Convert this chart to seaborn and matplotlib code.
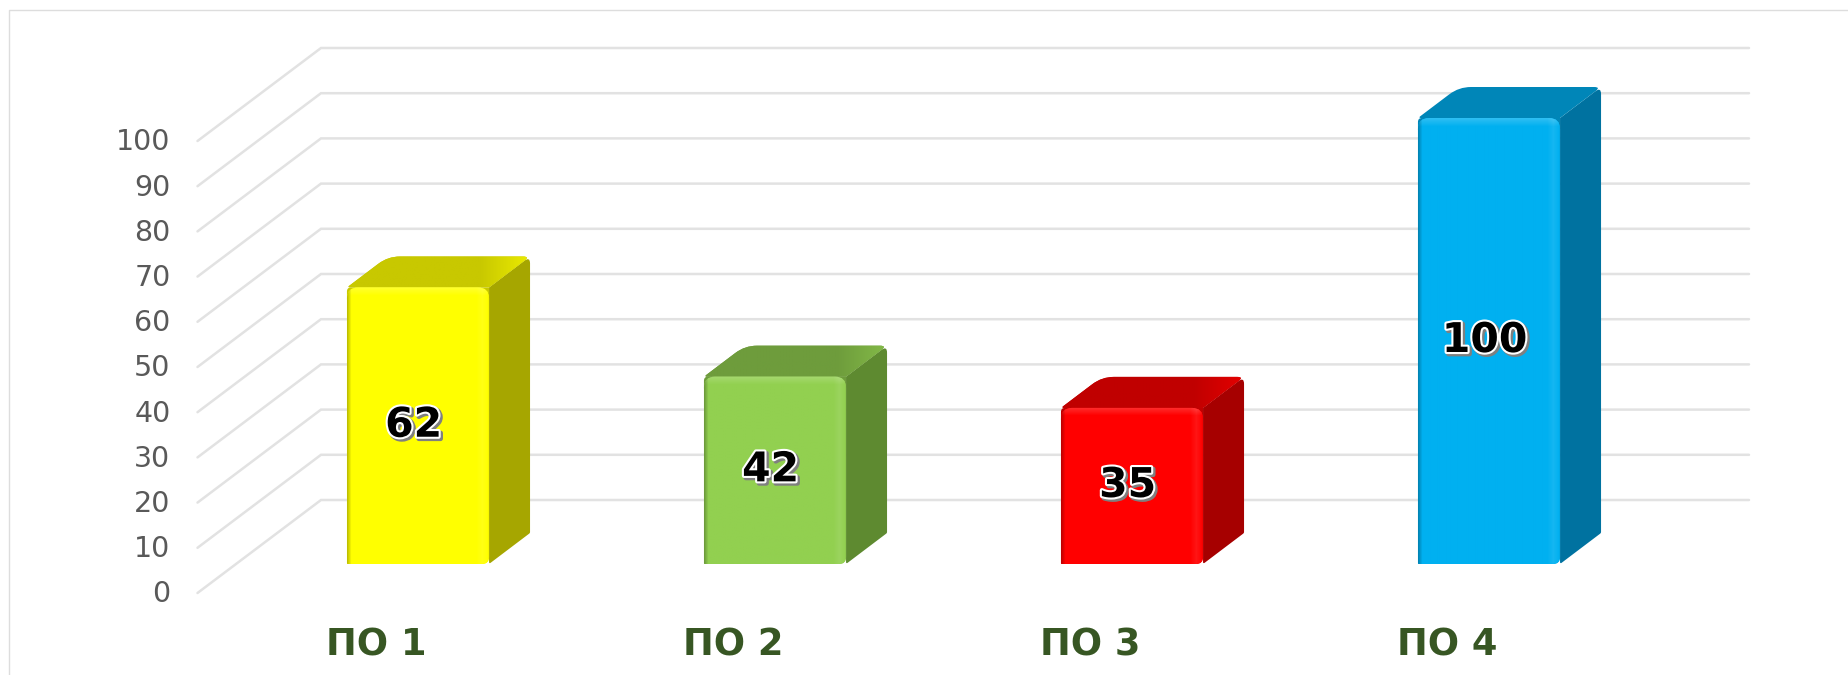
import numpy as np
import matplotlib
matplotlib.use("Agg")
import matplotlib.pyplot as plt
import matplotlib.patheffects as pe
from matplotlib.path import Path
from matplotlib.patches import PathPatch
from matplotlib.lines import Line2D
from matplotlib.transforms import Affine2D
import seaborn as sns

categories = ["ПО 1", "ПО 2", "ПО 3", "ПО 4"]
values = [62, 42, 35, 100]
y_ticks = [0, 10, 20, 30, 40, 50, 60, 70, 80, 90, 100]
front_colors = ["#FFFF00", "#92D050", "#FF0000", "#00B0F0"]
side_colors = ["#A6A600", "#5E8A30", "#A60000", "#0072A0"]
top_colors = ["#C8C800", "#6E9C3C", "#C00000", "#0086B8"]

W, H = 1849, 675
sns.set_theme(style="white")
plt.rcParams["font.family"] = ["DejaVu Sans"]
fig = plt.figure(figsize=(W / 100, H / 100), dpi=100, facecolor="white")


def axes_px(left, top, width, height, **kw):
    return fig.add_axes([left / W, 1 - (top + height) / H, width / W, height / H], **kw)


# Front plane: carries the tick labels and the wall gridlines
PLOT_W, PLOT_H = 1428, 452
ax_front = axes_px(197.5, 141, PLOT_W, PLOT_H, zorder=1)
ax_front.set_xlim(-0.5, 3.5)
ax_front.set_ylim(0, 100)
ax_front.patch.set_visible(False)
sns.despine(ax=ax_front, left=True, bottom=True)
ax_front.set_yticks(y_ticks, [str(v) for v in y_ticks])
ax_front.set_xticks(range(len(categories)), categories)
ax_front.tick_params(axis="y", length=0, pad=19.5, labelsize=20.5, labelcolor="#595959")
ax_front.tick_params(axis="x", length=0, pad=24, labelsize=26.5, labelcolor="#375623")
for lab in ax_front.get_xticklabels():
    lab.set_fontweight("bold")
for tick in ax_front.yaxis.get_major_ticks():
    tick.label1.set_transform(tick.label1.get_transform() + Affine2D().translate(0, 1.5))

sx = PLOT_W / 4          # px per category
sy = PLOT_H / 100        # px per value unit on the walls
wall_dx, wall_dy = 123.5 / sx, 93 / sy
for v in y_ticks:
    ax_front.plot([-0.5, -0.5 + wall_dx, 3.5 + wall_dx], [v, v + wall_dy, v + wall_dy],
                  color="#E2E2E2", lw=1.8, clip_on=False, solid_joinstyle="miter")

# Bar plane: shifted into the depth of the floor
BAR_H = 446
by = BAR_H / 100         # px per value unit on the bars
ax = axes_px(239.5, 564 - BAR_H, PLOT_W, BAR_H, zorder=2)
sns.barplot(x=categories, y=values, hue=categories, palette=front_colors, legend=False,
            width=0.398, dodge=False, saturation=1, ax=ax)
ax.set_xlim(-0.5, 3.5)
ax.set_ylim(0, 100)
ax.axis("off")

bar_dx, bar_dy = 41 / sx, 31 / by


def rounded(points, radii):
    """Closed path through data points, corners rounded by a radius in px."""
    pts = np.array(points, float) * [sx, by]
    verts, codes = [], []
    n = len(pts)
    for i in range(n):
        p, a, b = pts[i], pts[i - 1], pts[(i + 1) % n]
        r = radii[i]
        ua = (a - p) / np.linalg.norm(a - p)
        ub = (b - p) / np.linalg.norm(b - p)
        verts += [p + ua * r, p, p + ub * r]
        codes += [Path.LINETO, Path.CURVE3, Path.CURVE3]
    codes[0] = Path.MOVETO
    verts.append(verts[0])
    codes.append(Path.CLOSEPOLY)
    return Path(np.array(verts) / [sx, by], codes)


bars = sorted([p for p in ax.patches if p.get_height() > 0], key=lambda p: p.get_x())
for bar, v, fc, sc, tc in zip(bars, values, front_colors, side_colors, top_colors):
    x0, x1 = bar.get_x(), bar.get_x() + bar.get_width()
    y1 = bar.get_height()
    bar.set_alpha(0)  # the visible front is the bevelled face below, same geometry
    # right side face
    side = rounded([(x1, 0), (x1 + bar_dx, bar_dy), (x1 + bar_dx, y1 + bar_dy), (x1, y1)],
                   [2, 1, 7, 0.1])
    ax.add_patch(PathPatch(side, fc=sc, ec="none", zorder=3, clip_on=False))
    # top face, lighter towards its far right corner
    top = rounded([(x0, y1), (x0 + bar_dx, y1 + bar_dy), (x1 + bar_dx, y1 + bar_dy), (x1, y1)],
                  [3, 12, 7, 0.1])
    tp = PathPatch(top, fc=tc, ec="none", zorder=3.2, clip_on=False)
    ax.add_patch(tp)
    tw = int((x1 + bar_dx - x0) * sx)
    g = np.clip((np.arange(tw) / tw - 0.72) / 0.28, 0, 1)[None, :, None] * 0.22
    tbase = np.array(matplotlib.colors.to_rgb(tc))
    tim = ax.imshow(tbase + (np.minimum(tbase * 1.3, 1) - tbase) * g * 3,
                    extent=(x0, x1 + bar_dx, y1, y1 + bar_dy), origin="upper", aspect="auto",
                    zorder=3.3, interpolation="bilinear", clip_on=True)
    tim.set_clip_path(tp)
    # small backing so that the rounded front corners blend into the top face
    pad = 12 / by
    backing = rounded([(x0, y1 - pad), (x0, y1), (x1, y1), (x1, y1 - pad)], [0.1, 4, 0.1, 0.1])
    ax.add_patch(PathPatch(backing, fc=tc, ec="none", zorder=3.4, clip_on=False))
    # front face with bevel
    front = rounded([(x0, 0), (x0, y1), (x1, y1), (x1, 0)], [1, 11, 11, 7])
    fp = PathPatch(front, fc=fc, ec="none", zorder=3.5, clip_on=False)
    ax.add_patch(fp)
    w_px = int((x1 - x0) * sx)
    h_px = int(y1 * by)
    u = np.arange(w_px)[None, :]
    t = np.arange(h_px)[:, None]
    dark = np.clip(1 - u / 4, 0, 1) * 0.25 + np.clip((u - (w_px - 3)) / 3, 0, 1) * 0.10
    light = np.clip(1 - np.abs(u - (w_px - 8)) / 6, 0, 1) * 0.08 + np.clip(1 - t / 8, 0, 1) * 0.18
    base = np.array(matplotlib.colors.to_rgb(fc))
    img = np.ones((h_px, w_px, 3)) * base
    img = img + (1 - img) * light[..., None]
    img = img * (1 - dark[..., None])
    im = ax.imshow(img, extent=(x0, x1, 0, y1), origin="upper", aspect="auto", zorder=3.6,
                   interpolation="bilinear")
    im.set_clip_path(fp)
    ax.text((x0 + x1) / 2 - 0.012, y1 / 2, str(v), ha="center", va="center", fontsize=29.5,
            fontweight="bold", color="black", zorder=5,
            path_effects=[pe.Stroke(linewidth=3.5, foreground="#7F7F7F", offset=(1.4, -1.4)),
                          pe.Stroke(linewidth=3, foreground="white"), pe.Normal()])
ax.set_xlim(-0.5, 3.5)
ax.set_ylim(0, 100)

# Outer chart frame, cropped at the right and bottom
fx, fy = 9.5 / W, 1 - 9.5 / H
fig.add_artist(Line2D([fx, fx, 1], [0, fy, fy], color="#DDDDDD", lw=1.0))

fig.savefig("out.png", dpi=100, facecolor="white")
